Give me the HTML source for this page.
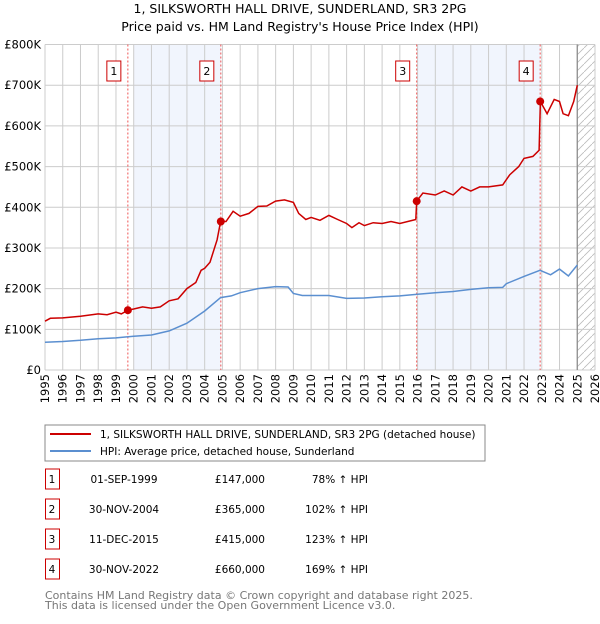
<!DOCTYPE html>
<html><head><meta charset="utf-8"><style>
body{margin:0;background:#fff;font-family:"DejaVu Sans","Liberation Sans",sans-serif;}
svg text{font-family:"DejaVu Sans","Liberation Sans",sans-serif;}
</style></head><body>
<svg id="c" width="600" height="620" xmlns="http://www.w3.org/2000/svg">
<text x="300" y="13" text-anchor="middle" font-size="12.5">1, SILKSWORTH HALL DRIVE, SUNDERLAND, SR3 2PG</text>
<text x="300" y="31" text-anchor="middle" font-size="12.5">Price paid vs. HM Land Registry's House Price Index (HPI)</text>
<g id="plot"></g>
<rect x="45" y="425" width="440" height="36" fill="#fff" stroke="#888"/>
<line x1="50" y1="434" x2="91" y2="434" stroke="#cc0000" stroke-width="2"/>
<text x="100" y="438" font-size="10.5">1, SILKSWORTH HALL DRIVE, SUNDERLAND, SR3 2PG (detached house)</text>
<line x1="50" y1="451" x2="91" y2="451" stroke="#5b8fd0" stroke-width="2"/>
<text x="100" y="455" font-size="10.5">HPI: Average price, detached house, Sunderland</text>
<g id="tbl" font-size="10.5"></g>
<text x="45" y="599" font-size="11" fill="#777">Contains HM Land Registry data © Crown copyright and database right 2025.</text>
<text x="45" y="609" font-size="11" fill="#777">This data is licensed under the Open Government Licence v3.0.</text>
</svg>
<script>
const hpiYears=[1995,1996,1997,1998,1999,2000,2001,2002,2003,2004,2004.9,2005.5,2006,2007,2008,2008.7,2009,2009.5,2010,2011,2012,2013,2014,2015,2016,2017,2018,2019,2020,2020.8,2021,2022,2022.9,2023.5,2024,2024.5,2025];
const hpiValues=[68,70,73,77,79,83,86,96,115,145,178,182,190,200,205,204,188,183,183,183,176,177,180,182,186,190,193,198,202,203,212,230,245,234,248,231,258];
const ppYears=[1995,1995.3,1996,1997,1998,1998.5,1999,1999.3,1999.67,2000,2000.5,2001,2001.5,2002,2002.5,2003,2003.5,2003.8,2004,2004.3,2004.7,2004.9,2005.2,2005.6,2006,2006.5,2007,2007.5,2008,2008.5,2009,2009.3,2009.7,2010,2010.5,2011,2011.5,2012,2012.3,2012.7,2013,2013.5,2014,2014.5,2015,2015.9,2015.95,2016.3,2017,2017.5,2018,2018.5,2019,2019.5,2020,2020.8,2021.2,2021.7,2022,2022.5,2022.85,2022.92,2023.3,2023.7,2024,2024.2,2024.5,2024.8,2025];
const ppValues=[120,127,128,132,138,136,142,138,147,150,155,152,155,170,175,200,215,245,250,265,320,365,365,390,378,385,402,403,415,418,412,385,370,375,368,380,370,360,350,362,355,362,360,365,360,370,415,435,430,440,430,450,440,450,450,455,480,500,520,525,540,660,630,665,660,630,625,660,700];
const saleYears=[1999.67,2004.91,2015.95,2022.91];
const saleValues=[147,365,415,660];
const saleLabels=["1","2","3","4"];
const saleDates=["01-SEP-1999","30-NOV-2004","11-DEC-2015","30-NOV-2022"];
const salePrices=["£147,000","£365,000","£415,000","£660,000"];
const saleHpi=["78% ↑ HPI","102% ↑ HPI","123% ↑ HPI","169% ↑ HPI"];
const yTicks=[0,100,200,300,400,500,600,700,800];
const yTickLabels=["£0","£100K","£200K","£300K","£400K","£500K","£600K","£700K","£800K"];
const xTicks=[];for(let y=1995;y<=2026;y++)xTicks.push(y);

const NS="http://www.w3.org/2000/svg";
const X0=45,X1=595,Y0=370,Y1=44.5;
const sx=v=>X0+(v-1995)*(X1-X0)/31;
const sy=v=>Y0-v*(Y0-Y1)/800;
const plot=document.getElementById('plot');
function mk(tag,attrs,parent){const e=document.createElementNS(NS,tag);for(const k in attrs)e.setAttribute(k,attrs[k]);(parent||plot).appendChild(e);return e;}
// shading
let e;
e=mk('rect',{x:sx(2000),y:Y1,width:sx(saleYears[1])-sx(2000),height:Y0-Y1,fill:'#eef3fc',opacity:0.8});


e=mk('rect',{x:sx(2016),y:Y1,width:sx(saleYears[3])-sx(2016),height:Y0-Y1,fill:'#eef3fc',opacity:0.8});


// hatch
const defs=mk('defs',{});
const pat=mk('pattern',{id:'h',width:8,height:8,patternUnits:'userSpaceOnUse'},defs);
mk('path',{d:'M0,8 L8,0',stroke:'#bbb','stroke-width':0.8},pat);
e=mk('rect',{x:sx(2025),y:Y1,width:X1-sx(2025),height:Y0-Y1,fill:'url(#h)'});


// grid
xTicks.forEach(t=>{const l=mk('line',{x1:sx(t),x2:sx(t),y1:Y1,y2:Y0,stroke:'#ccc','stroke-width':1});


const tx=mk('text',{transform:`translate(${sx(t)+4},${Y0+4}) rotate(-90)`,'text-anchor':'end','font-size':11.5});tx.textContent=t;

});
yTicks.forEach((t,i)=>{const l=mk('line',{x1:X0,x2:X1,y1:sy(t),y2:sy(t),stroke:'#ccc','stroke-width':1});


const tx=mk('text',{x:41,y:sy(t)+4,'text-anchor':'end','font-size':11.5});tx.textContent=yTickLabels[i];

});
e=mk('line',{x1:sx(2025),x2:sx(2025),y1:Y1,y2:Y0,stroke:'#888','stroke-width':1.2});


// sale vlines + labels
saleYears.forEach((y,i)=>{const l=mk('line',{x1:sx(y),x2:sx(y),y1:Y1,y2:Y0,stroke:'#e55','stroke-width':1,'stroke-dasharray':'2,2'});


const r=mk('rect',{x:sx(y)-21,y:61,width:14,height:20,fill:'#fff',stroke:'#cc0000'});


const t=mk('text',{x:sx(y)-14,y:75,'text-anchor':'middle','font-size':11});t.textContent=saleLabels[i];

});
// lines
const path=(xs,vs)=>xs.map((x,i)=>(i?'L':'M')+sx(x).toFixed(1)+','+sy(vs[i]).toFixed(1)).join('');
e=mk('path',{d:path(hpiYears,hpiValues),fill:'none',stroke:'#5b8fd0','stroke-width':1.5});


e=mk('path',{d:path(ppYears,ppValues),fill:'none',stroke:'#cc0000','stroke-width':1.5});


saleYears.forEach((y,i)=>{const c=mk('circle',{cx:sx(y),cy:sy(saleValues[i]),r:4,fill:'#cc0000'});

});
// table
const tbl=document.getElementById('tbl');
saleLabels.forEach((s,i)=>{const y=483+i*30;
const r=mk('rect',{x:45.5,y:y-14,width:14,height:20,fill:'#fff',stroke:'#cc0000'},tbl);


const cells=[[52,s,'middle'],[124,saleDates[i],'middle'],[265,salePrices[i],'end'],[368,saleHpi[i],'end']];
cells.forEach(c=>{const t=mk('text',{x:c[0],y:y,'text-anchor':c[2]},tbl);t.textContent=c[1];

});});
</script>
</body></html>
